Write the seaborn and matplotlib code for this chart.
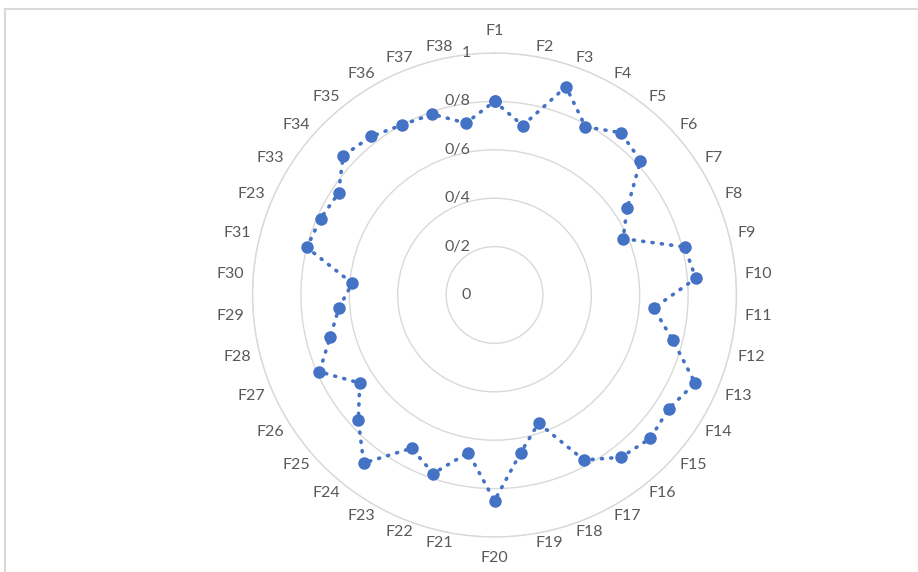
import numpy as np
import pandas as pd
import matplotlib
matplotlib.use("Agg")
import matplotlib.pyplot as plt
import seaborn as sns

sns.set_style("white")
plt.rcParams["font.family"] = ["Lato", "DejaVu Sans"]

categories = ["F1", "F2", "F3", "F4", "F5", "F6", "F7", "F8", "F9", "F10",
              "F11", "F12", "F13", "F14", "F15", "F16", "F17", "F18", "F19", "F20",
              "F21", "F22", "F23", "F24", "F25", "F26", "F27", "F28", "F29", "F30",
              "F31", "F23", "F33", "F34", "F35", "F36", "F37", "F38"]
values = [0.80, 0.71, 0.91, 0.79, 0.85, 0.82, 0.655, 0.58, 0.81, 0.835,
          0.66, 0.76, 0.905, 0.86, 0.875, 0.85, 0.775, 0.56, 0.66, 0.85,
          0.66, 0.78, 0.72, 0.88, 0.765, 0.665, 0.79, 0.70, 0.645, 0.59,
          0.80, 0.785, 0.77, 0.85, 0.83, 0.80, 0.79, 0.72]
radial_ticks = [0, 0.2, 0.4, 0.6, 0.8, 1.0]
radial_labels = ["0", "0/2", "0/4", "0/6", "0/8", "1"]

W, H = 918, 572
fig = plt.figure(figsize=(W / 100, H / 100), dpi=100)
fig.patch.set_facecolor("white")

# chart frame
fig.add_artist(plt.Line2D([5 / W, 5 / W], [0, 1 - 9 / H], transform=fig.transFigure,
                          color="#d9d9d9", lw=1.5))
fig.add_artist(plt.Line2D([5 / W, 1], [1 - 9 / H, 1 - 9 / H], transform=fig.transFigure,
                          color="#d9d9d9", lw=1.5))

cx, cy, R = 494.5, 295, 242
ax = fig.add_axes([(cx - R) / W, (H - cy - R) / H, 2 * R / W, 2 * R / H], polar=True)
ax.set_theta_zero_location("N")
ax.set_theta_direction(-1)
ax.set_ylim(0, 1)

n = len(categories)
theta = np.arange(n) * 2 * np.pi / n

df = pd.DataFrame({"theta": np.append(theta, theta[0]),
                   "value": np.append(values, values[0])})

color = "#4472C4"
sns.lineplot(data=df, x="theta", y="value", ax=ax, sort=False, estimator=None,
             color=color, lw=2.6, linestyle=(0, (0.3, 2.3)), dash_capstyle="round",
             marker="o", markersize=9, markeredgewidth=0, markerfacecolor=color)

# grid: concentric circles only
ax.set_xticks([])
ax.set_yticks(radial_ticks[1:])
ax.set_yticklabels([])
ax.yaxis.grid(True, color="#d9d9d9", lw=1)
ax.xaxis.grid(False)
ax.spines["polar"].set_color("#d9d9d9")
ax.spines["polar"].set_linewidth(1)

# radial value labels left of the vertical axis
for r, lab in zip(radial_ticks, radial_labels):
    ax.annotate(lab, xy=(0, r), xytext=(-24, 0), textcoords="offset pixels",
                ha="right", va="center", fontsize=11.5, color="#595959",
                annotation_clip=False)

# category labels around the outer ring
label_r = 1.037
for t, lab in zip(theta, categories):
    s = np.sin(t)
    if abs(s) < 1e-6:
        ha = "center"
        va = "bottom" if np.cos(t) > 0 else "top"
        off = (0, 6) if np.cos(t) > 0 else (0, -5)
    else:
        ha = "left" if s > 0 else "right"
        va = "center"
        off = (0, 0)
    ax.annotate(lab, xy=(t, label_r), xytext=off, textcoords="offset pixels",
                ha=ha, va=va, fontsize=11.5, color="#595959",
                annotation_clip=False)

ax.set_xlabel("")
ax.set_ylabel("")
ax.set_facecolor("white")

fig.savefig("out.png", dpi=100, facecolor="white")
